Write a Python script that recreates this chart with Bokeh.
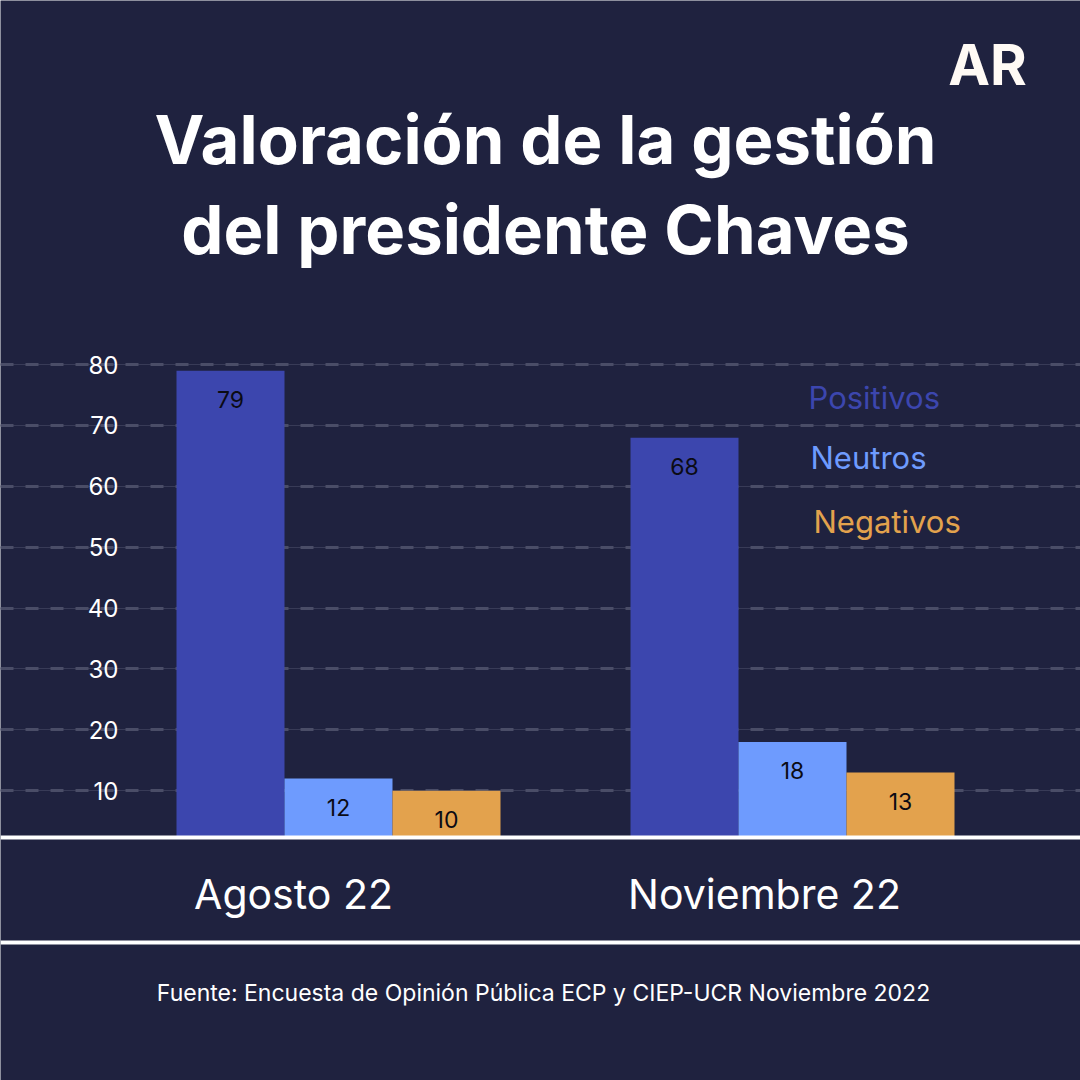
from bokeh.plotting import figure
from bokeh.models import FactorRange, Range1d, Span, Label, Grid, FixedTicker, ColumnDataSource
from bokeh.transform import dodge
from bokeh.core.properties import value
from bokeh.embed import file_html
from bokeh.resources import INLINE

# ---------------- data ----------------
months = ["Agosto 22", "Noviembre 22"]
series = ["Positivos", "Neutros", "Negativos"]
positivos = [79, 68]
neutros = [12, 18]
negativos = [10, 13]
y_ticks = [10, 20, 30, 40, 50, 60, 70, 80]
title_lines = ["Valoración de la gestión", "del presidente Chaves"]
source_text = "Fuente: Encuesta de Opinión Pública ECP y CIEP-UCR Noviembre 2022"
logo_text = "AR"

# ---------------- style ----------------
BG = "#1f223f"
COLORS = ["#3c46ae", "#6e9bfe", "#e3a24d"]
FONT = "Inter"
W = H = 1080

# reference page pixel -> canvas helpers
def sx(px):
    return px

def sy(py):
    return H - py

Y0, PX = 851.0, 6.086          # value 0 at page y 851, 6.086 px per unit

def yv(py):
    return (Y0 - py) / PX

UX = 454.0                      # px per month group
pad = (W / UX - 2) / 2
shift = 338 / UX - (pad + 0.5)
bw = 108 / UX
base = yv(837)

p = figure(width=W, height=H,
           x_range=FactorRange(*months, range_padding=pad, range_padding_units="absolute"),
           y_range=Range1d(yv(H), yv(0)),
           output_backend="svg", toolbar_location=None,
           x_axis_location=None, y_axis_location=None,
           min_border=0, min_border_left=0, min_border_right=0,
           min_border_top=0, min_border_bottom=0,
           background_fill_color=BG, border_fill_color=BG,
           outline_line_color=None)
p.center = [r for r in p.center if not isinstance(r, Grid)]

# grid: thin continuous line + thicker dashes
p.add_layout(Grid(dimension=1, ticker=FixedTicker(ticks=y_ticks),
                  grid_line_color="#383b57", grid_line_width=1))
p.add_layout(Grid(dimension=1, ticker=FixedTicker(ticks=y_ticks),
                  grid_line_color="#4a4d67", grid_line_width=3,
                  grid_line_dash="13 12"))

data = dict(month=months, Positivos=positivos, Neutros=neutros, Negativos=negativos)
for s, vals in zip(series, [positivos, neutros, negativos]):
    data[s + "_lbl"] = [str(v) for v in vals]
src = ColumnDataSource(data)

for i, (s, c) in enumerate(zip(series, COLORS)):
    xd = dodge("month", shift + (i - 1) * bw, range=p.x_range)
    p.vbar(x=xd, top=s, bottom=base, width=bw, source=src,
           fill_color=c, line_color=None)
    p.text(x=xd, y=s, text=s + "_lbl", source=src, text_align="center",
           text_baseline="middle", y_offset=29, text_color="#0b0b14",
           text_font=value(FONT), text_font_size="23px")

# baseline lines
p.add_layout(Span(location=base, dimension="width", line_color="white", line_width=4))
p.add_layout(Span(location=yv(942), dimension="width", line_color="white", line_width=4))

# y tick labels
for t in y_ticks:
    p.add_layout(Label(x=sx(118), x_units="screen", y=t, y_units="data",
                       text=str(t), text_align="right", text_baseline="middle",
                       text_color="white", text_font=FONT, text_font_size="24px"))

# legend labels
for s, c, (lx, ly) in zip(series, COLORS, [(808, 397), (810, 457), (813, 521)]):
    p.add_layout(Label(x=sx(lx), y=sy(ly), x_units="screen", y_units="screen",
                       text=s, text_align="left", text_baseline="middle",
                       text_color=c, text_font=FONT, text_font_size="31px"))

# month labels
for m, cx in zip(months, [293, 764]):
    p.add_layout(Label(x=sx(cx), y=sy(893), x_units="screen", y_units="screen",
                       text=m, text_align="center", text_baseline="middle",
                       text_color="white", text_font=FONT, text_font_size="41px"))

# title
for line, cy in zip(title_lines, [139, 229]):
    p.add_layout(Label(x=sx(545), y=sy(cy), x_units="screen", y_units="screen",
                       text=line, text_align="center", text_baseline="middle",
                       text_color="white", text_font=FONT, text_font_size="67px",
                       text_font_style="bold"))

# logo
p.add_layout(Label(x=sx(987), y=sy(64), x_units="screen", y_units="screen",
                   text=logo_text, text_align="center", text_baseline="middle",
                   text_color="#fffaf5", text_font=FONT, text_font_size="56px",
                   text_font_style="bold"))

# footer
p.add_layout(Label(x=sx(543), y=sy(992), x_units="screen", y_units="screen",
                   text=source_text, text_align="center", text_baseline="middle",
                   text_color="white", text_font=FONT, text_font_size="23px"))

open("out.html", "w").write(file_html(p, INLINE))
